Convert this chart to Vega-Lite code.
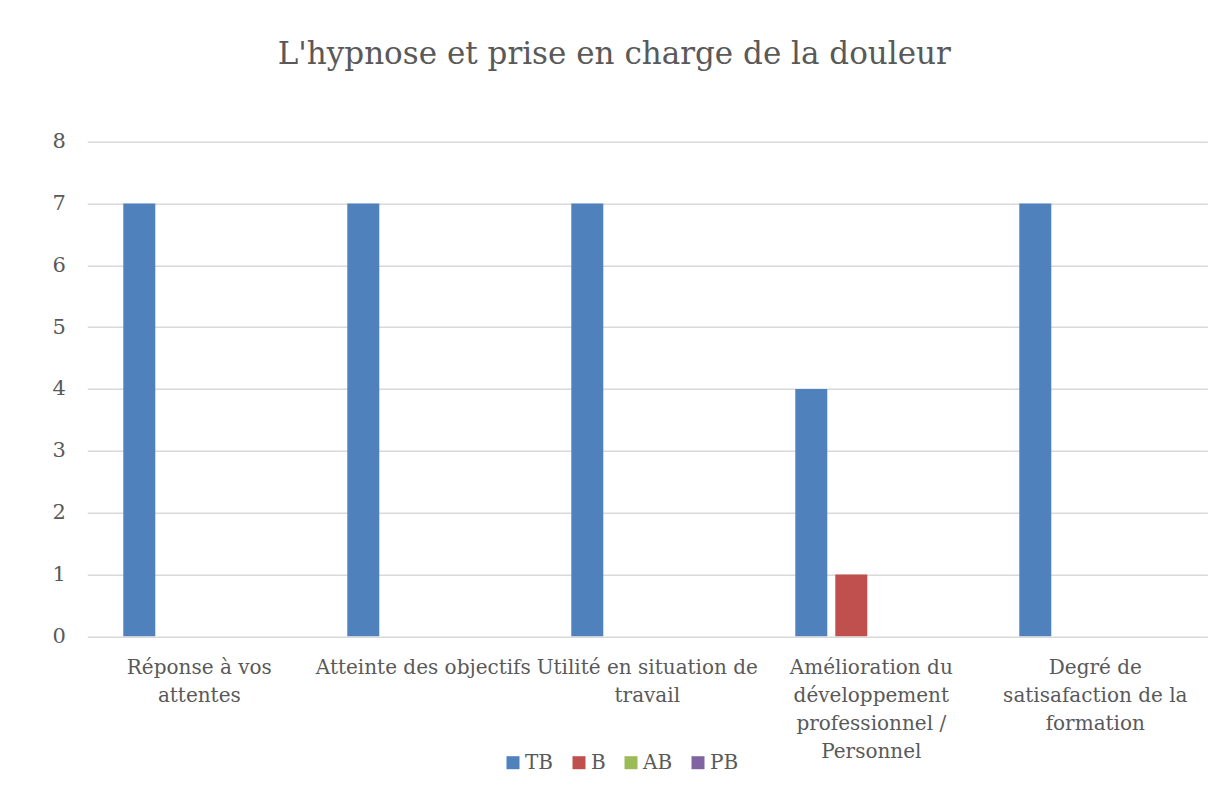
{
  "$schema": "https://vega.github.io/schema/vega-lite/v6.json",
  "width": 1120,
  "height": 494.5,
  "autosize": {"type": "none"},
  "padding": {"left": 87.3, "top": 141.7, "right": 1.7, "bottom": 156.8},
  "background": "white",
  "title": {
    "text": "L'hypnose et prise en charge de la douleur",
    "font": "DejaVu Serif",
    "fontSize": 31,
    "fontWeight": "normal",
    "color": "#595959",
    "anchor": "middle",
    "dx": -33,
    "offset": 60
  },
  "data": {
    "values": [
      {"critere": "Réponse à vos|attentes", "niveau": "TB", "n": 7},
      {"critere": "Réponse à vos|attentes", "niveau": "B", "n": 0},
      {"critere": "Réponse à vos|attentes", "niveau": "AB", "n": 0},
      {"critere": "Réponse à vos|attentes", "niveau": "PB", "n": 0},
      {"critere": "Atteinte des objectifs", "niveau": "TB", "n": 7},
      {"critere": "Atteinte des objectifs", "niveau": "B", "n": 0},
      {"critere": "Atteinte des objectifs", "niveau": "AB", "n": 0},
      {"critere": "Atteinte des objectifs", "niveau": "PB", "n": 0},
      {"critere": "Utilité en situation de|travail", "niveau": "TB", "n": 7},
      {"critere": "Utilité en situation de|travail", "niveau": "B", "n": 0},
      {"critere": "Utilité en situation de|travail", "niveau": "AB", "n": 0},
      {"critere": "Utilité en situation de|travail", "niveau": "PB", "n": 0},
      {"critere": "Amélioration du|développement|professionnel /|Personnel", "niveau": "TB", "n": 4},
      {"critere": "Amélioration du|développement|professionnel /|Personnel", "niveau": "B", "n": 1},
      {"critere": "Amélioration du|développement|professionnel /|Personnel", "niveau": "AB", "n": 0},
      {"critere": "Amélioration du|développement|professionnel /|Personnel", "niveau": "PB", "n": 0},
      {"critere": "Degré de|satisafaction de la|formation", "niveau": "TB", "n": 7},
      {"critere": "Degré de|satisafaction de la|formation", "niveau": "B", "n": 0},
      {"critere": "Degré de|satisafaction de la|formation", "niveau": "AB", "n": 0},
      {"critere": "Degré de|satisafaction de la|formation", "niveau": "PB", "n": 0}
    ]
  },
  "mark": {"type": "bar"},
  "encoding": {
    "x": {
      "field": "critere",
      "type": "nominal",
      "sort": null,
      "scale": {"paddingInner": 0, "paddingOuter": 0},
      "axis": {
        "title": null,
        "labelAngle": 0,
        "labelExpr": "split(datum.value, '|')",
        "labelFont": "DejaVu Serif",
        "labelFontSize": 20,
        "labelColor": "#595959",
        "labelLineHeight": 28,
        "labelPadding": 21,
        "labelBaseline": "top",
        "ticks": false,
        "domain": false,
        "labelLimit": 400
      }
    },
    "xOffset": {
      "field": "niveau",
      "type": "nominal",
      "sort": ["TB", "B", "AB", "PB"],
      "scale": {"paddingInner": 0.2, "paddingOuter": 0.9}
    },
    "y": {
      "field": "n",
      "type": "quantitative",
      "scale": {"domain": [0, 8], "nice": false},
      "axis": {
        "title": null,
        "values": [0, 1, 2, 3, 4, 5, 6, 7, 8],
        "labelFont": "DejaVu Serif",
        "labelFontSize": 21,
        "labelColor": "#595959",
        "labelPadding": 22,
        "ticks": false,
        "domain": false,
        "gridColor": "#d9d9d9",
        "gridWidth": 1.5
      }
    },
    "color": {
      "field": "niveau",
      "type": "nominal",
      "sort": ["TB", "B", "AB", "PB"],
      "scale": {
        "domain": ["TB", "B", "AB", "PB"],
        "range": ["#4F81BD", "#C0504D", "#9BBB59", "#8064A2"]
      },
      "legend": {
        "title": null,
        "orient": "none",
        "direction": "horizontal",
        "legendX": 415.7,
        "legendY": 611,
        "symbolType": "square",
        "symbolSize": 169,
        "symbolStrokeWidth": 0,
        "labelFont": "DejaVu Serif",
        "labelFontSize": 20,
        "labelColor": "#595959",
        "labelOffset": 2,
        "columnPadding": 15
      }
    }
  },
  "config": {
    "view": {"stroke": null}
  }
}
